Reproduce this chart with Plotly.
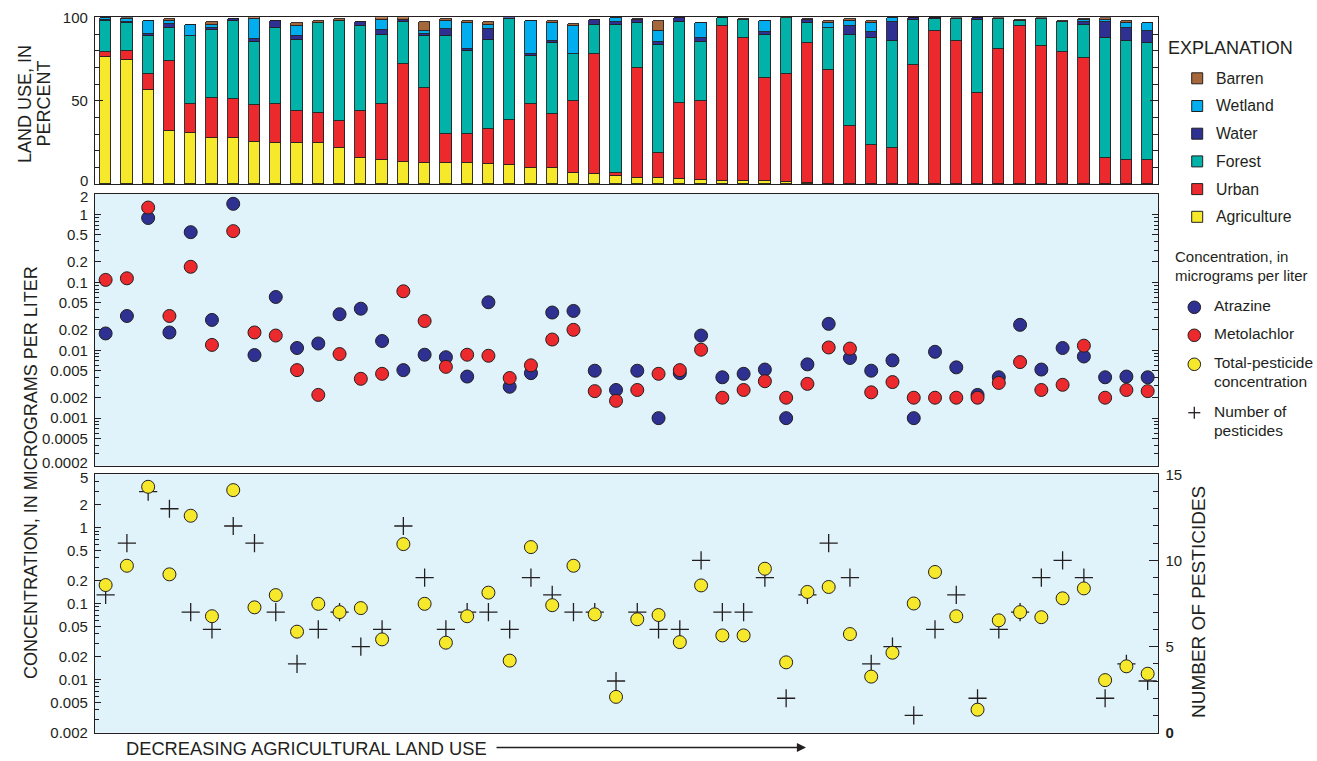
import math
import plotly.graph_objects as go

# ---------------- data ----------------
sites = list(range(1, 51))

agriculture = [76.0, 74.5, 56.0, 31.7, 30.5, 27.7, 27.7, 25.1, 24.8, 24.8,
               24.6, 21.6, 15.6, 14.6, 13.2, 12.6, 12.6, 12.6, 11.8, 11.4,
               9.4, 9.4, 6.6, 5.8, 4.8, 3.6, 3.6, 3.0, 2.6, 1.6,
               1.6, 1.6, 1.4, 0.5, 0.3, 0.3, 0.3, 0.3, 0.2, 0.1,
               0.0, 0.0, 0.0, 0.0, 0.0, 0.0, 0.0, 0.0, 0.0, 0.0]
urban = [3.0, 4.9, 10.0, 42.0, 17.2, 23.8, 23.2, 22.4, 22.9, 18.9,
         17.9, 16.1, 28.1, 33.1, 58.7, 44.9, 17.1, 17.1, 21.1, 27.1,
         38.3, 32.3, 43.1, 71.8, 1.8, 65.9, 15.0, 45.5, 47.3, 92.8,
         85.8, 61.9, 64.5, 83.9, 68.2, 34.2, 23.3, 21.3, 71.3, 91.7,
         85.8, 54.5, 80.8, 94.8, 82.8, 78.8, 75.4, 15.6, 14.6, 14.6]
forest = [18.5, 17.0, 22.4, 19.7, 40.9, 40.9, 46.5, 37.5, 45.7, 42.7,
          53.9, 60.1, 50.7, 41.7, 24.9, 30.9, 58.7, 50.1, 53.5, 60.3,
          29.1, 42.7, 28.1, 17.8, 88.8, 26.9, 64.8, 48.5, 34.9, 5.0,
          11.0, 25.9, 33.5, 12.0, 24.9, 54.9, 63.8, 63.8, 26.9, 7.0,
          13.0, 43.9, 18.0, 3.0, 16.0, 18.0, 20.0, 71.8, 70.8, 69.8]
water = [0.8, 0.5, 1.4, 2.6, 0.0, 1.0, 1.4, 1.8, 4.4, 2.0,
         0.0, 0.0, 2.4, 2.6, 1.6, 1.4, 4.4, 1.0, 6.4, 1.2,
         1.2, 1.4, 0.0, 3.0, 1.4, 2.0, 1.4, 2.4, 2.6, 0.0,
         0.0, 1.4, 0.0, 2.0, 0.0, 5.4, 3.4, 11.4, 1.0, 0.6,
         0.0, 1.0, 0.0, 0.0, 0.0, 0.0, 1.4, 9.4, 8.0, 7.4]
wetland = [1.0, 2.0, 8.0, 1.4, 6.8, 2.0, 0.0, 12.0, 0.0, 6.4,
           0.0, 0.0, 0.0, 6.4, 0.0, 1.6, 4.6, 15.6, 2.6, 0.0,
           19.8, 10.6, 17.0, 0.0, 2.6, 0.0, 7.0, 0.0, 9.0, 0.0,
           0.0, 6.6, 0.0, 0.0, 3.0, 2.6, 5.6, 2.6, 0.0, 0.0,
           0.0, 0.0, 0.0, 0.0, 0.0, 0.0, 1.6, 1.6, 3.0, 4.6]
barren = [0.2, 0.8, 0.0, 1.4, 0.0, 1.4, 0.0, 1.2, 0.0, 1.6,
          1.4, 1.0, 0.0, 1.6, 1.6, 5.4, 1.4, 1.4, 1.4, 0.0,
          0.0, 1.4, 1.2, 0.0, 0.0, 0.4, 6.0, 0.0, 0.0, 0.2,
          0.4, 0.4, 0.6, 0.4, 1.4, 1.4, 1.0, 0.0, 0.0, 0.0,
          0.6, 0.0, 0.6, 0.4, 0.6, 1.0, 0.4, 1.0, 1.0, 0.0]

atrazine = [0.0177, 0.032, 0.89, 0.0183, 0.55, 0.028, 1.44, 0.0085, 0.061, 0.0108,
            0.0126, 0.034, 0.041, 0.0137, 0.0051, 0.0086, 0.0079, 0.0041, 0.051, 0.0029,
            0.0046, 0.036, 0.038, 0.005, 0.0026, 0.005, 0.001, 0.0046, 0.0165, 0.004,
            0.0045, 0.0052, 0.001, 0.0062, 0.0245, 0.0077, 0.005, 0.0071, 0.001, 0.0095,
            0.0056, 0.0022, 0.004, 0.0237, 0.0052, 0.0108, 0.0081, 0.004, 0.0041, 0.004]
metolachlor = [0.109, 0.115, 1.27, 0.032, 0.17, 0.012, 0.57, 0.0183, 0.0165, 0.0051,
               0.0022, 0.0088, 0.0038, 0.0045, 0.074, 0.027, 0.0057, 0.0086, 0.0083, 0.0039,
               0.006, 0.0144, 0.02, 0.0025, 0.0018, 0.0026, 0.0045, 0.0051, 0.0102, 0.002,
               0.0026, 0.0035, 0.002, 0.0032, 0.011, 0.0106, 0.0024, 0.0034, 0.002, 0.002,
               0.002, 0.002, 0.0033, 0.0067, 0.0026, 0.0031, 0.0117, 0.002, 0.0026, 0.0025]
total_conc = [0.175, 0.314, 3.44, 0.242, 1.43, 0.068, 3.11, 0.089, 0.129, 0.0426,
              0.099, 0.077, 0.087, 0.0337, 0.605, 0.099, 0.0305, 0.068, 0.139, 0.0177,
              0.553, 0.095, 0.314, 0.072, 0.0059, 0.062, 0.0705, 0.031, 0.173, 0.038,
              0.038, 0.287, 0.0168, 0.142, 0.165, 0.0396, 0.0109, 0.0225, 0.1, 0.26,
              0.068, 0.004, 0.06, 0.077, 0.066, 0.117, 0.158, 0.0098, 0.0149, 0.0119]
n_pesticides = [8, 11, 14, 13, 7, 6, 12, 11, 7, 4,
                6, 7, 5, 6, 12, 9, 6, 7, 7, 6,
                9, 8, 7, 7, 3, 7, 6, 6, 10, 7,
                7, 9, 2, 8, 11, 9, 4, 5, 1, 6,
                8, 2, 6, 7, 9, 10, 9, 2, 4, 3]

landuse_ticks = [0, 50, 100]
conc_ticks_mid = [2, 1, 0.5, 0.2, 0.1, 0.05, 0.02, 0.01, 0.005, 0.002, 0.001, 0.0005, 0.0002]
conc_ticks_bot = [5, 2, 1, 0.5, 0.2, 0.1, 0.05, 0.02, 0.01, 0.005, 0.002]
count_ticks = [0, 5, 10, 15]
count_ticktext = ["<b>0</b>", "5", "10", "15"]

landuse_names = ["Agriculture", "Urban", "Forest", "Water", "Wetland", "Barren"]
landuse_values = [agriculture, urban, forest, water, wetland, barren]

# ---------------- style ----------------
W, H = 1317, 761
FONT = "Liberation Sans, Arial, Helvetica, sans-serif"
INK = "#231F20"
PANEL = "#E0F3FA"
land_colors = {"Agriculture": "#F6E92B", "Urban": "#EC2A2E", "Forest": "#00B2A7",
               "Water": "#2E3192", "Wetland": "#00AEEF", "Barren": "#A6683A"}
C_ATR = "#2E3192"
C_MET = "#EC2A2E"
C_TOT = "#F6E92B"


def px(x):
    return x / W


def py(y):
    return 1 - y / H


def fmt(v):
    return ("%.4f" % v).rstrip("0").rstrip(".")


def minor_log(lo, hi, majors):
    out = []
    e = math.floor(math.log10(lo)) - 1
    while 10 ** e <= hi * 10:
        for m in range(1, 10):
            v = m * 10 ** e
            if lo * 0.999 <= v <= hi * 1.001 and not any(abs(v - t) / t < 1e-6 for t in majors):
                out.append(v)
        e += 1
    return out


# frame pixel positions
X0, X1 = 95, 1158.3
TOP = (17.3, 184.3)
MID = (194.0, 465.7)
BOT = (474.3, 732.7)

xdom = [px(X0), px(X1)]
dom_top = [py(TOP[1]), py(TOP[0])]
dom_mid = [py(MID[1]), py(MID[0])]
dom_bot = [py(BOT[1]), py(BOT[0])]

# labels at the inner edges of stacked panels are nudged inward (as in the original)
nudged = {("top", 0): TOP[1] - 3.5, ("mid", 2): MID[0] + 3,
          ("mid", 0.0002): MID[1] - 3.5, ("bot", 5): BOT[0] + 3.5}

top_text = ["" if ("top", v) in nudged else str(v) for v in landuse_ticks]
mid_text = ["" if ("mid", v) in nudged else fmt(v) for v in conc_ticks_mid]
bot_text = ["" if ("bot", v) in nudged else fmt(v) for v in conc_ticks_bot]

fig = go.Figure()

for name, vals in zip(landuse_names, landuse_values):
    fig.add_trace(go.Bar(x=sites, y=vals, name=name, width=0.53,
                         marker=dict(color=land_colors[name], line=dict(color=INK, width=0.9)),
                         xaxis="x", yaxis="y", showlegend=False))

circle_line = dict(color=INK, width=1)
fig.add_trace(go.Scatter(x=sites, y=atrazine, mode="markers", name="Atrazine",
                         marker=dict(size=13, color=C_ATR, line=circle_line),
                         xaxis="x2", yaxis="y2", showlegend=False))
fig.add_trace(go.Scatter(x=sites, y=metolachlor, mode="markers", name="Metolachlor",
                         marker=dict(size=13, color=C_MET, line=circle_line),
                         xaxis="x2", yaxis="y2", showlegend=False))
fig.add_trace(go.Scatter(x=sites, y=n_pesticides, mode="markers", name="Number of pesticides",
                         marker=dict(symbol="cross-thin", size=13, color=INK,
                                     line=dict(color=INK, width=1.3)),
                         xaxis="x3", yaxis="y3", showlegend=False))
fig.add_trace(go.Scatter(x=sites, y=total_conc, mode="markers", name="Total-pesticide concentration",
                         marker=dict(size=13, color=C_TOT, line=circle_line),
                         xaxis="x3", yaxis="y4", showlegend=False))

tickfont = dict(family=FONT, size=15, color=INK)
xcommon = dict(domain=xdom, range=[0.5, 50.5], showticklabels=False, ticks="",
               showline=True, mirror=True, linecolor=INK, linewidth=1.2,
               showgrid=False, zeroline=False, automargin=False)

fig.update_layout(
    template="none",
    width=W, height=H, autosize=False,
    margin=dict(l=0, r=0, t=0, b=0, pad=0),
    paper_bgcolor="white", plot_bgcolor="white",
    barmode="stack", bargap=0,
    font=dict(family=FONT, color=INK),
    xaxis=dict(anchor="y", **xcommon),
    xaxis2=dict(anchor="y2", **xcommon),
    xaxis3=dict(anchor="y3", **xcommon),
    yaxis=dict(domain=dom_top, anchor="x", range=[0, 100], tickmode="array",
               tickvals=landuse_ticks, ticktext=top_text,
               ticks="inside", ticklen=8, tickcolor=INK, tickfont=tickfont,
               ticklabelstandoff=3, automargin=False,
               minor=dict(dtick=10, ticks="inside", ticklen=5, tickcolor=INK, showgrid=False),
               showline=True, mirror="ticks", linecolor=INK, linewidth=1.2,
               showgrid=False, zeroline=False),
    yaxis2=dict(domain=dom_mid, anchor="x2", type="log",
                range=[math.log10(0.0002) - 0.002, math.log10(2) + 0.002],
                tickmode="array", tickvals=conc_ticks_mid, ticktext=mid_text,
                ticks="inside", ticklen=6, tickcolor=INK, tickfont=tickfont,
                ticklabelstandoff=3, automargin=False,
                minor=dict(tickvals=minor_log(0.0002, 2, conc_ticks_mid), ticks="inside",
                           ticklen=4, tickcolor=INK, showgrid=False),
                showline=True, mirror="ticks", linecolor=INK, linewidth=1.2,
                showgrid=False, zeroline=False),
    yaxis3=dict(domain=dom_bot, anchor="x3", side="right", range=[0, 15],
                tickmode="array", tickvals=count_ticks, ticktext=count_ticktext,
                ticks="inside", ticklen=9, tickcolor=INK, tickfont=tickfont,
                ticklabelstandoff=3, automargin=False,
                minor=dict(dtick=1, ticks="inside", ticklen=5, tickcolor=INK, showgrid=False),
                showline=True, linecolor=INK, linewidth=1.2,
                showgrid=False, zeroline=False),
    yaxis4=dict(overlaying="y3", anchor="x3", side="left", type="log",
                range=[math.log10(0.002) - 0.002, math.log10(5) + 0.002],
                tickmode="array", tickvals=conc_ticks_bot, ticktext=bot_text,
                ticks="inside", ticklen=6, tickcolor=INK, tickfont=tickfont,
                ticklabelstandoff=3, automargin=False,
                minor=dict(tickvals=minor_log(0.002, 5, conc_ticks_bot), ticks="inside",
                           ticklen=4, tickcolor=INK, showgrid=False),
                showline=True, linecolor=INK, linewidth=1.2,
                showgrid=False, zeroline=False),
)

shapes = []
for xref, yref in [("x2 domain", "y2 domain"), ("x3 domain", "y3 domain")]:
    shapes.append(dict(type="rect", xref=xref, yref=yref, x0=0, x1=1, y0=0, y1=1,
                       fillcolor=PANEL, line=dict(width=0), layer="below"))

annotations = []


def text(x, y, s, size, anchor="left", angle=0):
    annotations.append(dict(x=px(x), y=py(y), xref="paper", yref="paper", text=s,
                            showarrow=False, xanchor=anchor, yanchor="middle",
                            textangle=angle, font=dict(family=FONT, size=size, color=INK)))


# nudged edge tick labels
for (panel, v), yy in nudged.items():
    text(89.5, yy, fmt(v), 15, anchor="right")

# explanation (legend)
text(1166, 48, "EXPLANATION", 18)
for i, name in enumerate(reversed(landuse_names)):
    cy = 78.3 + i * 27.7
    shapes.append(dict(type="rect", xref="paper", yref="paper",
                       x0=px(1191.7), x1=px(1202.7), y0=py(cy + 5.5), y1=py(cy - 5.5),
                       fillcolor=land_colors[name], line=dict(color=INK, width=1)))
    text(1214, cy, name, 15.8)

text(1173, 256.7, "Concentration, in", 15)
text(1173, 275.7, "micrograms per liter", 15)
for cy, col, lines in [(307.3, C_ATR, ["Atrazine"]), (335.3, C_MET, ["Metolachlor"]),
                       (364.3, C_TOT, ["Total-pesticide", "concentration"])]:
    shapes.append(dict(type="circle", xref="paper", yref="paper",
                       x0=px(1194.3 - 6.3), x1=px(1194.3 + 6.3), y0=py(cy + 6.3), y1=py(cy - 6.3),
                       fillcolor=col, line=dict(color=INK, width=1)))
    for k, ln in enumerate(lines):
        text(1212, cy - 1.5 + k * 19, ln, 15.5)
# plus symbol key
shapes.append(dict(type="line", xref="paper", yref="paper", x0=px(1188.3), x1=px(1200.3),
                   y0=py(412.7), y1=py(412.7), line=dict(color=INK, width=1.3)))
shapes.append(dict(type="line", xref="paper", yref="paper", x0=px(1194.3), x1=px(1194.3),
                   y0=py(406.7), y1=py(418.7), line=dict(color=INK, width=1.3)))
text(1212, 411.7, "Number of", 15.5)
text(1212, 430.7, "pesticides", 15.5)

# axis titles
text(25, 104, "LAND USE, IN", 18, anchor="center", angle=-90)
text(43.5, 104, "PERCENT", 18, anchor="center", angle=-90)
text(31, 473, "CONCENTRATION, IN MICROGRAMS PER LITER", 18, anchor="center", angle=-90)
text(1198, 602, "NUMBER OF PESTICIDES", 19, anchor="center", angle=-90)

# bottom caption and arrow
text(124, 748, "DECREASING AGRICULTURAL LAND USE", 18.3)
annotations.append(dict(x=px(806), y=py(747.5), xref="paper", yref="paper",
                        ax=-311, ay=0, axref="pixel", ayref="pixel", text="",
                        showarrow=True, arrowhead=2, arrowsize=1.4, arrowwidth=1.3,
                        arrowcolor=INK))

fig.update_layout(shapes=shapes, annotations=annotations)

fig.write_html("out.html", config={"displayModeBar": False},
               post_script="document.body.style.margin='0';document.body.style.overflow='hidden';")
